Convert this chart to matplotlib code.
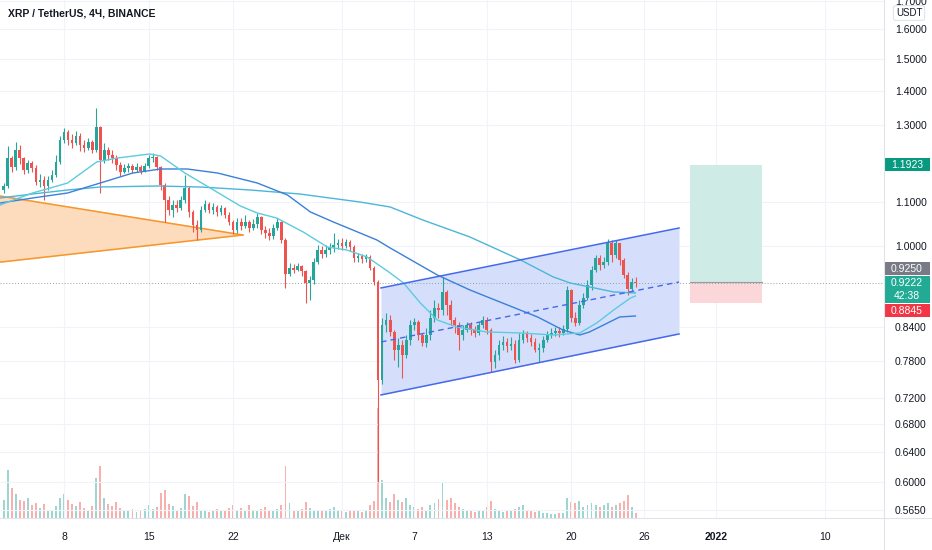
import numpy as np
import pandas as pd
import matplotlib
matplotlib.use("Agg")
import matplotlib.pyplot as plt
from matplotlib.patches import Rectangle
from matplotlib.ticker import FuncFormatter, NullLocator

plt.rcParams["font.family"] = ["Liberation Sans", "DejaVu Sans"]

# ---------------------------------------------------------------
# XRP / USDT 8h candles (open = previous close)
# ---------------------------------------------------------------
first_open = 1.1289
close = [
    1.1387, 1.2098, 1.1865, 1.2310, 1.2098, 1.1788, 1.1968, 1.1839, 1.1486, 1.1536,
    1.1387, 1.1536, 1.1661, 1.1994, 1.2579, 1.2799, 1.2579, 1.2498, 1.2688, 1.2444,
    1.2364, 1.2525, 1.2310, 1.2940, 1.2046, 1.2310, 1.2177, 1.2098, 1.1916, 1.1737,
    1.1839, 1.1890, 1.1788, 1.1865, 1.1763, 1.1890, 1.2098, 1.2125, 1.1865, 1.1411,
    1.1047, 1.0810, 1.0928, 1.0857, 1.1047, 1.1338, 1.0764, 1.0465, 1.0352, 1.0810,
    1.0952, 1.0810, 1.0881, 1.0764, 1.0857, 1.0694, 1.0533, 1.0352, 1.0533, 1.0442,
    1.0533, 1.0397, 1.0488, 1.0648, 1.0352, 1.0286, 1.0219, 1.0397, 1.0533, 1.0131,
    0.9412, 0.9535, 0.9494, 0.9576, 0.9474, 0.9231, 0.9291, 0.9659, 0.9914, 0.9828,
    0.9914, 0.9978, 1.0022, 1.0065, 1.0000, 1.0087, 0.9978, 0.9743, 0.9786, 0.9722,
    0.9764, 0.9535, 0.9251, 0.7483, 0.8428, 0.8520, 0.8302, 0.7984, 0.8071, 0.7899,
    0.8159, 0.8428, 0.8483, 0.8248, 0.8106, 0.8248, 0.8557, 0.8745, 0.8707, 0.9053,
    0.8801, 0.8520, 0.8428, 0.8248, 0.8338, 0.8428, 0.8338, 0.8284, 0.8428, 0.8520,
    0.8338, 0.7779, 0.7899, 0.8071, 0.8124, 0.8054, 0.8089, 0.7813, 0.8159, 0.8266,
    0.8195, 0.8124, 0.7984, 0.8019, 0.8159, 0.8248, 0.8284, 0.8320, 0.8284, 0.8356,
    0.9092, 0.8557, 0.8465, 0.8801, 0.8936, 0.9191, 0.9494, 0.9743, 0.9597, 0.9659,
    1.0065, 0.9807, 1.0065, 0.9701, 0.9392, 0.9112, 0.9251, 0.9222]
high = [
    1.1461, 1.2417, 1.2151, 1.2525, 1.2444, 1.2125, 1.2046, 1.2020, 1.1916, 1.1686,
    1.1636, 1.1636, 1.1788, 1.2177, 1.2688, 1.2910, 1.2854, 1.2744, 1.2826, 1.2771,
    1.2579, 1.2634, 1.2579, 1.3480, 1.2963, 1.2498, 1.2391, 1.2310, 1.2177, 1.1994,
    1.1942, 1.1968, 1.1942, 1.1968, 1.1916, 1.1968, 1.2177, 1.2230, 1.2151, 1.1890,
    1.1461, 1.1143, 1.1047, 1.1047, 1.1143, 1.1661, 1.1387, 1.0810, 1.0579, 1.0904,
    1.1047, 1.0999, 1.0975, 1.0928, 1.0928, 1.0881, 1.0764, 1.0579, 1.0625, 1.0625,
    1.0694, 1.0579, 1.0602, 1.0740, 1.0671, 1.0442, 1.0397, 1.0488, 1.0625, 1.0556,
    1.0175, 0.9639, 0.9618, 0.9639, 0.9597, 0.9494, 0.9372, 0.9743, 1.0022, 1.0000,
    1.0022, 1.0065, 1.0286, 1.0153, 1.0175, 1.0153, 1.0131, 1.0022, 0.9850, 0.9828,
    0.9828, 0.9807, 0.9576, 0.9291, 0.8557, 0.8650, 0.8612, 0.8338, 0.8195, 0.8159,
    0.8248, 0.8520, 0.8557, 0.8520, 0.8284, 0.8374, 0.8707, 0.8897, 0.8839, 0.9352,
    0.9092, 0.8897, 0.8576, 0.8483, 0.8428, 0.8483, 0.8483, 0.8410, 0.8483, 0.8594,
    0.8576, 0.8374, 0.7984, 0.8159, 0.8230, 0.8195, 0.8213, 0.8159, 0.8284, 0.8338,
    0.8320, 0.8266, 0.8195, 0.8106, 0.8230, 0.8320, 0.8374, 0.8392, 0.8392, 0.8428,
    0.9171, 0.9112, 0.8669, 0.8897, 0.9033, 0.9291, 0.9576, 0.9807, 0.9807, 0.9764,
    1.0153, 1.0131, 1.0131, 1.0065, 0.9743, 0.9453, 0.9332, 0.9352]
low = [
    1.1216, 1.1338, 1.1737, 1.1788, 1.1942, 1.1686, 1.1712, 1.1737, 1.1411, 1.1362,
    1.1047, 1.1289, 1.1486, 1.1611, 1.1942, 1.2498, 1.2444, 1.2364, 1.2444, 1.2284,
    1.2257, 1.2310, 1.2230, 1.2257, 1.1216, 1.1968, 1.2046, 1.1968, 1.1788, 1.1636,
    1.1712, 1.1737, 1.1712, 1.1737, 1.1686, 1.1737, 1.1839, 1.1994, 1.1788, 1.1289,
    1.0533, 1.0694, 1.0648, 1.0764, 1.0810, 1.0975, 1.0648, 1.0308, 1.0131, 1.0308,
    1.0764, 1.0740, 1.0717, 1.0671, 1.0694, 1.0625, 1.0465, 1.0263, 1.0286, 1.0352,
    1.0397, 1.0308, 1.0352, 1.0397, 1.0263, 1.0175, 1.0131, 1.0153, 1.0352, 1.0065,
    0.9132, 0.9372, 0.9433, 0.9474, 0.9372, 0.8839, 0.8897, 0.9211, 0.9618, 0.9743,
    0.9764, 0.9828, 0.9871, 0.9935, 0.9914, 0.9957, 0.9892, 0.9659, 0.9659, 0.9639,
    0.9659, 0.9494, 0.9191, 0.6000, 0.7418, 0.8302, 0.8230, 0.7813, 0.7696, 0.7516,
    0.7848, 0.8071, 0.8338, 0.8159, 0.8054, 0.8036, 0.8159, 0.8483, 0.8557, 0.8612,
    0.8612, 0.8428, 0.8284, 0.7984, 0.8159, 0.8302, 0.8248, 0.8213, 0.8248, 0.8374,
    0.8266, 0.7613, 0.7679, 0.7813, 0.7984, 0.7950, 0.7984, 0.7763, 0.7779, 0.8106,
    0.8124, 0.8054, 0.7950, 0.7779, 0.7950, 0.8124, 0.8195, 0.8230, 0.8213, 0.8248,
    0.8302, 0.8483, 0.8410, 0.8428, 0.8745, 0.8897, 0.9092, 0.9453, 0.9494, 0.9535,
    0.9597, 0.9659, 0.9743, 0.9597, 0.9332, 0.8994, 0.9073, 0.9152]
# volume, millions XRP
volume = [
    36, 96, 60, 48, 36, 34, 40, 26, 30, 20,
    28, 16, 16, 24, 40, 48, 36, 28, 24, 32,
    20, 16, 24, 80, 104, 40, 28, 24, 32, 20,
    14, 14, 18, 12, 14, 18, 26, 18, 22, 50,
    56, 28, 24, 16, 20, 48, 44, 24, 32, 16,
    14, 12, 14, 18, 14, 16, 20, 26, 16, 20,
    16, 26, 14, 16, 18, 22, 14, 16, 18, 26,
    104, 30, 16, 14, 18, 32, 20, 16, 14, 16,
    14, 18, 22, 16, 14, 12, 14, 16, 14, 12,
    16, 26, 34, 220, 76, 40, 32, 48, 36, 32,
    40, 26, 22, 18, 22, 16, 26, 30, 38, 72,
    36, 40, 30, 22, 18, 14, 14, 12, 16, 14,
    22, 34, 18, 14, 12, 16, 14, 18, 22, 26,
    14, 16, 12, 14, 10, 10, 8, 8, 10, 10,
    40, 32, 30, 34, 22, 26, 30, 26, 22, 26,
    30, 22, 26, 30, 34, 46, 22, 10]

# moving averages: (days after 1 Nov 2021, price)
ma_fast_days = [1.7, 4.4, 7.3, 9.7, 11.4, 14.1, 15.0, 17.0, 19.1, 21.6, 23.0, 24.6, 26.8,
                28.8, 30.4, 32.1, 34.0, 35.1, 36.5, 37.9, 39.5, 42.0, 44.8, 47.5, 49.7,
                51.1, 52.5, 53.9, 54.3]
ma_fast = [1.0928, 1.1216, 1.1461, 1.1994, 1.2098, 1.2204, 1.2151, 1.1712, 1.1338, 1.0904,
           1.0740, 1.0625, 1.0308, 0.9978, 0.9914, 0.9764, 0.9433, 0.9231, 0.8839, 0.8520,
           0.8392, 0.8302, 0.8284, 0.8248, 0.8284, 0.8465, 0.8707, 0.8936, 0.8975]
ma_mid_days = [1.7, 4.4, 7.3, 10.0, 12.7, 15.0, 17.2, 19.7, 23.0, 25.5, 27.4, 29.3, 31.5,
               32.9, 34.0, 37.9, 40.6, 43.3, 46.2, 48.3, 49.7, 50.5, 52.0, 53.0, 54.3]
ma_mid = [1.0975, 1.1095, 1.1216, 1.1461, 1.1712, 1.1814, 1.1814, 1.1712, 1.1461, 1.1167,
          1.0764, 1.0533, 1.0286, 1.0131, 0.9957, 0.9392, 0.9092, 0.8839, 0.8576, 0.8338,
          0.8248, 0.8302, 0.8465, 0.8576, 0.8594]
ma_slow_days = [1.7, 4.4, 7.3, 10.0, 14.7, 18.3, 22.4, 26.5, 31.5, 34.0, 36.7, 40.6, 44.8,
                47.5, 48.9, 50.5, 52.5, 54.3]
ma_slow = [1.1095, 1.1192, 1.1289, 1.1362, 1.1387, 1.1362, 1.1289, 1.1192, 1.0999, 1.0881,
           1.0579, 1.0197, 0.9701, 0.9352, 0.9231, 0.9152, 0.9053, 0.9033]

# drawings
triangle_days = [1.0, 21.8, 1.0]
triangle_price = [1.1175, 1.0241, 0.9637]
channel_days = [33.24, 57.91]
channel_upper = [0.9132, 1.0397]
channel_mid = [0.8124, 0.9251]
channel_lower = [0.7244, 0.8266]
position_days = [58.82, 64.78]
target, entry, stop = 1.1923, 0.9250, 0.8845
last_price = 0.9222

price_ticks = [1.7, 1.6, 1.5, 1.4, 1.3, 1.1, 1.0, 0.84, 0.78, 0.72, 0.68, 0.64, 0.60, 0.565]
date_ticks = ["2021-11-08", "2021-11-15", "2021-11-22", "2021-12-01", "2021-12-07",
              "2021-12-13", "2021-12-20", "2021-12-26", "2022-01-01", "2022-01-10"]
date_labels = ["8", "15", "22", "Дек", "7", "13", "20", "26", "2022", "10"]

# ---------------------------------------------------------------
base = pd.Timestamp("2021-11-01")
def to_dates(days):
    return base + pd.to_timedelta(np.array(days), unit="D")

times = pd.date_range("2021-11-03 00:00", periods=len(close), freq="8h")
opens = [first_open] + close[:-1]
up = np.array(close) >= np.array(opens)

GREEN, RED = "#26a69a", "#ef5350"
W, H = 932, 550
ax_right = 884
ax_bottom = 518
rect = [0, (H - ax_bottom) / H, ax_right / W, ax_bottom / H]
xlim = (base + pd.Timedelta(days=1.70), base + pd.Timedelta(days=74.88))
ylim = (0.5550, 1.7032)

fig = plt.figure(figsize=(W / 100, H / 100), dpi=100)
fig.patch.set_facecolor("white")

# volume pane underneath
axv = fig.add_axes(rect, zorder=0)
axv.bar(times, volume, width=0.16, color=np.where(up, "#9dd6d0", "#f8b0ae"))
axv.set_xlim(xlim)
axv.set_ylim(0, 2 * ax_bottom)
axv.axis("off")

ax = fig.add_axes(rect, zorder=1)
ax.set_facecolor("none")
ax.set_yscale("log")
ax.set_xlim(xlim)
ax.set_ylim(ylim)

# triangle
tri_t = to_dates(triangle_days)
ax.fill(tri_t, triangle_price, color="#fddcbd", zorder=1)
ax.plot(tri_t[:2], triangle_price[:2], color="#f7962a", lw=1.1, zorder=2)
ax.plot(tri_t[1:], triangle_price[1:], color="#f7962a", lw=1.1, zorder=2)

# parallel channel
ch_t = to_dates(channel_days)
ax.fill_between(ch_t, channel_lower, channel_upper, color="#d5dffb", lw=0, zorder=1)
ax.plot(ch_t, channel_upper, color="#4468ee", lw=1.1, zorder=5)
ax.plot(ch_t, channel_lower, color="#4468ee", lw=1.1, zorder=5)
ax.plot(ch_t, channel_mid, color="#4468ee", lw=1.0, ls=(0, (4, 3)), zorder=5)

# long position tool
pos_t = to_dates(position_days)
ax.fill_between(pos_t, entry, target, color="#ceebe6", lw=0, zorder=1)
ax.fill_between(pos_t, stop, entry, color="#fcd7da", lw=0, zorder=1)
ax.plot(pos_t, [entry, entry], color="#9a9ca5", lw=0.8, zorder=2)

# candles
colors = np.where(up, GREEN, RED)
ax.vlines(times, low, high, colors=colors, lw=0.8, zorder=3)
body_lo = np.minimum(opens, close)
body_h = np.maximum(np.abs(np.array(close) - np.array(opens)), 0.0008)
ax.bar(times, body_h, bottom=body_lo, width=0.22, color=colors, lw=0, zorder=3)

# moving averages
ax.plot(to_dates(ma_slow_days), ma_slow, color="#4cb6d8", lw=1.0, zorder=4)
ax.plot(to_dates(ma_mid_days), ma_mid, color="#3a80d9", lw=1.0, zorder=4)
ax.plot(to_dates(ma_fast_days), ma_fast, color="#5ccbde", lw=1.0, zorder=4)

# last price line
ax.axhline(last_price, color="#8fa3a3", lw=0.7, ls=(0, (1, 2)), zorder=2)

# axes styling
ax.yaxis.tick_right()
ax.set_yticks(price_ticks)
ax.yaxis.set_minor_locator(NullLocator())
ax.yaxis.set_major_formatter(FuncFormatter(lambda v, _: f"{v:.4f}"))
ax.set_xticks(pd.to_datetime(date_ticks))
ax.set_xticklabels(date_labels)
for lab in ax.get_xticklabels():
    if lab.get_text() == "2022":
        lab.set_fontweight("bold")
ax.tick_params(axis="y", length=0, pad=8, labelsize=7.5, labelcolor="#131722")
ax.tick_params(axis="x", length=0, pad=10, labelsize=7.5, labelcolor="#131722")
ax.grid(True, color="#f0f3fa", lw=0.8)
ax.set_axisbelow(True)
for s in ["top", "left"]:
    ax.spines[s].set_visible(False)
for s in ["right", "bottom"]:
    ax.spines[s].set_color("#e0e3eb")
    ax.spines[s].set_linewidth(0.8)
fig.add_artist(plt.Line2D([ax_right / W, 1], [(H - ax_bottom) / H] * 2,
                          transform=fig.transFigure, color="#e0e3eb", lw=0.8))
fig.add_artist(plt.Line2D([ax_right / W] * 2, [0, (H - ax_bottom) / H],
                          transform=fig.transFigure, color="#e0e3eb", lw=0.8))

# price tags on the scale
def price_tag(price, lines, color, dy=0):
    y = ax.get_yaxis_transform().transform((0, price))[1] + dy
    h = 14 * len(lines) - 1
    top = y + 7
    fig.add_artist(Rectangle((ax_right / W, (top - h) / H), 46 / W, h / H,
                             transform=fig.transFigure, fc=color, ec="none"))
    for i, t in enumerate(lines):
        fig.text((ax_right + 23) / W, (y - 13 * i) / H, t, color="white",
                 fontsize=7.5, ha="center", va="center")

price_tag(target, ["1.1923"], "#089981")
price_tag(entry, ["0.9250"], "#787b86", dy=13)
price_tag(last_price, ["0.9222", "42:38"], "#22ab94", dy=0)
price_tag(stop, ["0.8845"], "#f23645", dy=-8)

fig.text(909 / W, 1 - 13 / H, "USDT", fontsize=7, color="#131722", ha="center", va="center",
         bbox=dict(boxstyle="round,pad=0.25", fc="white", ec="#e0e3eb", lw=0.8))
fig.text(8 / W, 1 - 14 / H, "XRP / TetherUS, 4Ч, BINANCE", fontsize=7.5, fontweight="bold",
         color="#131722", ha="left", va="center")

fig.savefig("out.png", dpi=100)
